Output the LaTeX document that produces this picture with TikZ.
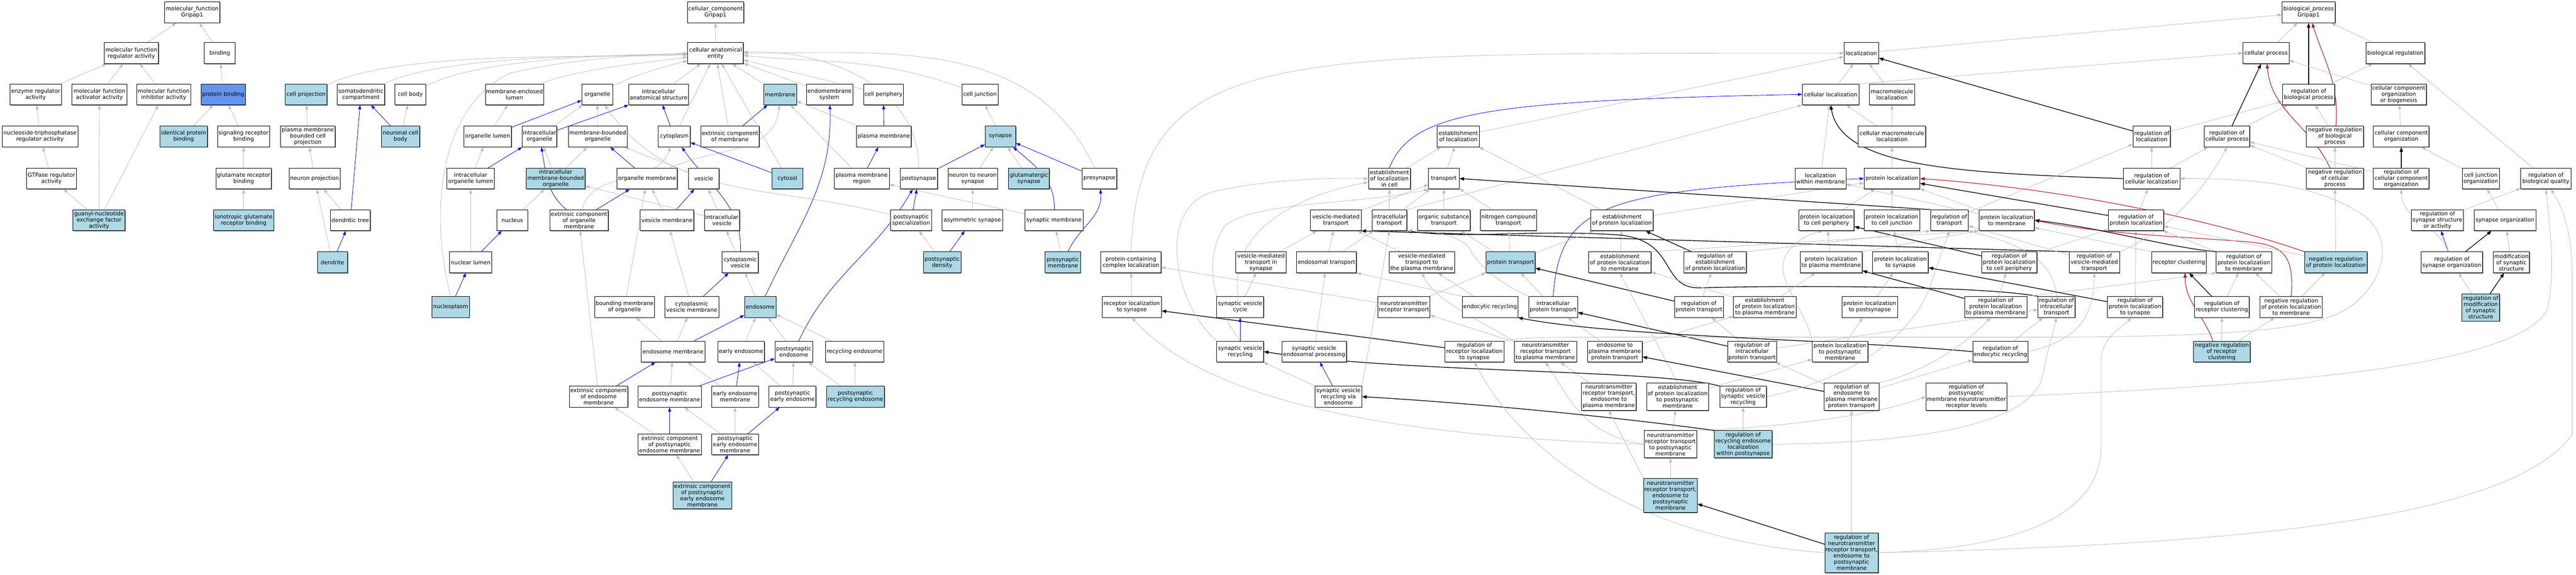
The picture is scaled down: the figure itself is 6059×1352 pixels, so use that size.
\documentclass[tikz,border=0pt]{standalone}
\usepackage{fontspec}
\setmainfont{DejaVu Sans}
\usetikzlibrary{arrows.meta,shadows}
\newcommand{\gofont}{\fontsize{13}{14.5}\selectfont}
\definecolor{lbl}{HTML}{ADD8E6}
\definecolor{cfb}{HTML}{6495ED}
\definecolor{eg}{HTML}{BEBEBE}
\definecolor{fbr}{HTML}{B22222}
\pgfdeclarelayer{edgelayer}
\pgfsetlayers{edgelayer,main}
\tikzset{
  box/.style={draw=black, line width=1.1pt, fill=white, inner sep=1pt, align=center, font=\gofont, minimum height=49pt,
    drop shadow={shadow xshift=1.3pt, shadow yshift=-1.6pt, fill=black!55, opacity=1}},
  lbx/.style={box, fill=lbl},
  W/.style={minimum width=#1pt},
  H/.style={minimum height=#1pt},
  isa/.style={draw=eg, line width=1pt, -{Triangle[length=10pt,width=7pt]}},
  po/.style={draw=blue, line width=1pt, -{Triangle[length=10pt,width=7pt]}},
  rg/.style={draw=black, line width=1.6pt, -{Triangle[length=11pt,width=8pt]}},
  nr/.style={draw=fbr, line width=1.4pt, -{Triangle[length=11pt,width=8pt]}}
}
\begin{document}
\begin{tikzpicture}[x=1pt,y=1pt]
\useasboundingbox (0,0) rectangle (6059,1352);
% ---------------- molecular function
\node[box,W=130] (mf) at (452,1323) {molecular\_function\\Gripap1};
\node[box,W=128] (mfreg) at (309,1227) {molecular function\\regulator activity};
\node[box,W=72] (binding) at (517,1227) {binding};
\node[box,W=121] (enzreg) at (84,1130) {enzyme regulator\\activity};
\node[box,W=129] (mfact) at (234,1130) {molecular function\\activator activity};
\node[box,W=127] (mfinh) at (385,1130) {molecular function\\inhibitor activity};
\node[box,W=104,fill=cfb] (protbind) at (525,1130) {protein binding};
\node[box,W=178] (ntpreg) at (94,1031) {nucleoside-triphosphatase\\regulator activity};
\node[lbx,W=112] (idprot) at (432,1031) {identical protein\\binding};
\node[box,W=122] (sigrec) at (573,1031) {signaling receptor\\binding};
\node[box,W=117] (gtpreg) at (121,932) {GTPase regulator\\activity};
\node[box,W=130] (glurec) at (573,932) {glutamate receptor\\binding};
\node[lbx,W=122] (gef) at (233,834) {guanyl-nucleotide\\exchange factor\\activity};
\node[lbx,W=141] (ionglu) at (573,834) {ionotropic glutamate\\receptor binding};
% ---------------- cellular component
\node[box,W=133] (cc) at (1683,1323) {cellular\_component\\Gripap1};
\node[box,W=131] (cae) at (1683,1227) {cellular anatomical\\entity};
\node[lbx,W=98] (cellproj) at (720,1130) {cell projection};
\node[box,W=112] (somato) at (849,1130) {somatodendritic\\compartment};
\node[box,W=72] (cellbody) at (965,1130) {cell body};
\node[box,W=137] (mel) at (1210,1130) {membrane-enclosed\\lumen};
\node[box,W=72] (organelle) at (1405,1130) {organelle};
\node[box,W=140] (ias) at (1549,1130) {intracellular\\anatomical structure};
\node[lbx,W=77] (membrane) at (1835,1130) {membrane};
\node[box,W=109] (endomem) at (1951,1130) {endomembrane\\system};
\node[box,W=93] (cellperiph) at (2078,1130) {cell periphery};
\node[box,W=85] (celljunc) at (2305,1130) {cell junction};
\node[box,W=129] (pmbcp) at (724,1031) {plasma membrane\\bounded cell\\projection};
\node[lbx,W=90] (ncb) at (942,1031) {neuronal cell\\body};
\node[box,W=112] (orglumen) at (1147,1031) {organelle lumen};
\node[box,W=81] (intorg) at (1269,1031) {intracellular\\organelle};
\node[box,W=138] (mbo) at (1406,1031) {membrane-bounded\\organelle};
\node[box,W=75] (cytoplasm) at (1586,1031) {cytoplasm};
\node[box,W=138] (extmem) at (1717,1031) {extrinsic component\\of membrane};
\node[box,W=129] (pm) at (2079,1031) {plasma membrane};
\node[lbx,W=72] (synapse) at (2353,1031) {synapse};
\node[box,W=120] (neurproj) at (740,932) {neuron projection};
\node[box,W=111] (iol) at (1107,932) {intracellular\\organelle lumen};
\node[lbx,W=138] (imbo) at (1307,932) {intracellular\\membrane-bounded\\organelle};
\node[box,W=142] (orgmem) at (1522,932) {organelle membrane};
\node[box,W=72] (vesicle) at (1655,932) {vesicle};
\node[lbx,W=72] (cytosol) at (1852,932) {cytosol};
\node[box,W=129] (pmr) at (2027,932) {plasma membrane\\region};
\node[box,W=88] (postsyn) at (2161,932) {postsynapse};
\node[box,W=116] (n2n) at (2288,932) {neuron to neuron\\synapse};
\node[lbx,W=96] (glutsyn) at (2420,932) {glutamatergic\\synapse};
\node[box,W=82] (presyn) at (2586,932) {presynapse};
\node[box,W=94] (dendtree) at (824,834) {dendritic tree};
\node[box,W=72] (nucleus) at (1205,834) {nucleus};
\node[box,W=138] (ecom) at (1362,834) {extrinsic component\\of organelle\\membrane};
\node[box,W=126] (vesmem) at (1569,834) {vesicle membrane};
\node[box,W=83] (intves) at (1698,834) {intracellular\\vesicle};
\node[box,W=96] (pss) at (2143,834) {postsynaptic\\specialization};
\node[box,W=143] (asym) at (2287,834) {asymmetric synapse};
\node[box,W=137] (synmem) at (2479,834) {synaptic membrane};
\node[lbx,W=71] (dendrite) at (782,735) {dendrite};
\node[box,W=99] (nuclumen) at (1107,735) {nuclear lumen};
\node[box,W=85] (cytves) at (1741,735) {cytoplasmic\\vesicle};
\node[lbx,W=88] (psd) at (2216,735) {postsynaptic\\density};
\node[lbx,W=83] (presynmem) at (2500,735) {presynaptic\\membrane};
\node[lbx,W=88] (nucleoplasm) at (1060,630) {nucleoplasm};
\node[box,W=140] (bmo) at (1469,630) {bounding membrane\\of organelle};
\node[box,W=127] (cvm) at (1627,630) {cytoplasmic\\vesicle membrane};
\node[lbx,W=74] (endosome) at (1788,630) {endosome};
\node[box,W=150] (endmem) at (1583,525) {endosome membrane};
\node[box,W=110] (earlyend) at (1743,525) {early endosome};
\node[box,W=88] (psend) at (1867,525) {postsynaptic\\endosome};
\node[box,W=137] (recend) at (2010,525) {recycling endosome};
\node[box,W=138] (ecem) at (1408,419) {extrinsic component\\of endosome\\membrane};
\node[box,W=149] (psendmem) at (1575,419) {postsynaptic\\endosome membrane};
\node[box,W=110] (eem) at (1729,419) {early endosome\\membrane};
\node[box,W=110] (pse) at (1864,419) {postsynaptic\\early endosome};
\node[lbx,W=136] (psre) at (2012,419) {postsynaptic\\recycling endosome};
\node[box,W=149] (ecpem) at (1575,307) {extrinsic component\\of postsynaptic\\endosome membrane};
\node[box,W=110] (psem) at (1729,307) {postsynaptic\\early endosome\\membrane};
\node[lbx,W=138,H=64] (ecpeem) at (1652,187) {extrinsic component\\of postsynaptic\\early endosome\\membrane};
% ---------------- biological process
\node[box,W=125] (bp) at (5430,1323) {biological\_process\\Gripap1};
\node[box,W=81] (loc) at (4378,1227) {localization};
\node[box,W=108] (cellproc) at (5330,1227) {cellular process};
\node[box,W=139] (bioreg) at (5634,1227) {biological regulation};
\node[box,W=133] (cellloc) at (4306,1130) {cellular localization};
\node[box,W=107] (macroloc) at (4450,1130) {macromolecule\\localization};
\node[box,W=123] (rbp) at (5430,1130) {regulation of\\biological process};
\node[box,W=130] (ccob) at (5642,1130) {cellular component\\organization\\or biogenesis};
\node[box,W=99] (estloc) at (3430,1031) {establishment\\of localization};
\node[box,W=159] (cmacroloc) at (4450,1031) {cellular macromolecule\\localization};
\node[box,W=88] (rloc) at (5061,1031) {regulation of\\localization};
\node[box,W=107] (rcp) at (5238,1031) {regulation of\\cellular process};
\node[box,W=134] (nrbp) at (5492,1031) {negative regulation\\of biological\\process};
\node[box,W=131] (cco) at (5648,1031) {cellular component\\organization};
\node[box,W=99] (estloccell) at (3268,932) {establishment\\of localization\\in cell};
\node[box,W=72] (transport) at (3396,932) {transport};
\node[box,W=120] (locmem) at (4282,932) {localization\\within membrane};
\node[box,W=131] (protloc) at (4450,932) {protein localization};
\node[box,W=133] (rcellloc) at (5061,932) {regulation of\\cellular localization};
\node[box,W=134] (nrcp) at (5492,932) {negative regulation\\of cellular\\process};
\node[box,W=131] (rcco) at (5648,932) {regulation of\\cellular component\\organization};
\node[box,W=87] (cjo) at (5835,932) {cell junction\\organization};
\node[box,W=118] (rbq) at (5988,932) {regulation of\\biological quality};
\node[box,W=119] (vmt) at (3142,834) {vesicle-mediated\\transport};
\node[box,W=82] (ict) at (3268,834) {intracellular\\transport};
\node[box,W=124] (ost) at (3396,834) {organic substance\\transport};
\node[box,W=132] (nct) at (3548,834) {nitrogen compound\\transport};
\node[box,W=147] (estprotloc) at (3815,834) {establishment\\of protein localization};
\node[box,W=130] (plcp) at (4296,834) {protein localization\\to cell periphery};
\node[box,W=131] (plcj) at (4450,834) {protein localization\\to cell junction};
\node[box,W=89] (rtrans) at (4585,834) {regulation of\\transport};
\node[box,W=130] (plmem) at (4720,834) {protein localization\\to membrane};
\node[box,W=130] (rprotloc) at (5024,834) {regulation of\\protein localization};
\node[box,W=122] (rssa) at (5733,834) {regulation of\\synapse structure\\or activity};
\node[box,W=145] (synorg) at (5892,834) {synapse organization};
\node[box,W=142] (pcl) at (2660,735) {protein-containing\\complex localization};
\node[box,W=118] (vmts) at (2966,735) {vesicle-mediated\\transport in\\synapse};
\node[box,W=141] (endotrans) at (3120,735) {endosomal transport};
\node[box,W=154] (vmtpm) at (3344,735) {vesicle-mediated\\transport to\\the plasma membrane};
\node[lbx,W=115] (prottrans) at (3553,735) {protein transport};
\node[box,W=147] (estplmem) at (3810,735) {establishment\\of protein localization\\to membrane};
\node[box,W=147] (restprotloc) at (4034,735) {regulation of\\establishment\\of protein localization};
\node[box,W=146] (plpm) at (4307,735) {protein localization\\to plasma membrane};
\node[box,W=131] (plsyn) at (4470,735) {protein localization\\to synapse};
\node[box,W=130] (rplcp) at (4726,735) {regulation of\\protein localization\\to cell periphery};
\node[box,W=119] (rvmt) at (4926,735) {regulation of\\vesicle-mediated\\transport};
\node[box,W=128] (recclust) at (5125,735) {receptor clustering};
\node[box,W=130] (rplmem) at (5278,735) {regulation of\\protein localization\\to membrane};
\node[lbx,W=147] (nrprotloc) at (5494,735) {negative regulation\\of protein localization};
\node[box,W=145] (rso) at (5767,735) {regulation of\\synapse organization};
\node[box,W=85] (mss) at (5907,735) {modification\\of synaptic\\structure};
\node[box,W=139] (rls) at (2662,630) {receptor localization\\to synapse};
\node[box,W=110] (svc) at (2917,630) {synaptic vesicle\\cycle};
\node[box,W=122] (ntrt) at (3302,630) {neurotransmitter\\receptor transport};
\node[box,W=130] (endorec) at (3505,630) {endocytic recycling};
\node[box,W=115] (ipt) at (3653,630) {intracellular\\protein transport};
\node[box,W=115] (rpt) at (3996,630) {regulation of\\protein transport};
\node[box,W=147] (estplpm) at (4151,630) {establishment\\of protein localization\\to plasma membrane};
\node[box,W=131] (plps) at (4398,630) {protein localization\\to postsynapse};
\node[box,W=147] (rplpm) at (4694,630) {regulation of\\protein localization\\to plasma membrane};
\node[box,W=87] (rit) at (4837,630) {regulation of\\intracellular\\transport};
\node[box,W=130] (rplsyn) at (5022,630) {regulation of\\protein localization\\to synapse};
\node[box,W=128] (rrc) at (5226,630) {regulation of\\receptor clustering};
\node[box,W=146] (nrplmem) at (5389,630) {negative regulation\\of protein localization\\to membrane};
\node[lbx,W=89,H=64] (rmss) at (5835,629) {regulation of\\modification\\of synaptic\\structure};
\node[box,W=110] (svr) at (2917,525) {synaptic vesicle\\recycling};
\node[box,W=152] (svep) at (3091,525) {synaptic vesicle\\endosomal processing};
\node[box,W=139] (rrls) at (3468,525) {regulation of\\receptor localization\\to synapse};
\node[box,W=147] (ntrtpm) at (3635,525) {neurotransmitter\\receptor transport\\to plasma membrane};
\node[box,W=129] (e2pm) at (3798,525) {endosome to\\plasma membrane\\protein transport};
\node[box,W=115] (ript) at (4121,525) {regulation of\\intracellular\\protein transport};
\node[box,W=131] (plpsm) at (4328,525) {protein localization\\to postsynaptic\\membrane};
\node[box,W=130] (rer) at (4705,525) {regulation of\\endocytic recycling};
\node[lbx,W=133] (nrrc) at (5226,525) {negative regulation\\of receptor\\clustering};
\node[box,W=110] (svre) at (3148,419) {synaptic vesicle\\recycling via\\endosome};
\node[box,W=128,H=64] (ntrte2pm) at (3784,419) {neurotransmitter\\receptor transport,\\endosome to\\plasma membrane};
\node[box,W=145,H=64] (estplpsm) at (3946,419) {establishment\\of protein localization\\to postsynaptic\\membrane};
\node[box,W=110] (rsvr) at (4100,419) {regulation of\\synaptic vesicle\\recycling};
\node[box,W=129,H=64] (re2pm) at (4355,419) {regulation of\\endosome to\\plasma membrane\\protein transport};
\node[box,W=190,H=64] (rpmntrl) at (4625,419) {regulation of\\postsynaptic\\membrane neurotransmitter\\receptor levels};
\node[box,W=123,H=64] (ntrtpsm) at (3929,307) {neurotransmitter\\receptor transport\\to postsynaptic\\membrane};
\node[lbx,W=136,H=64] (rrelp) at (4100,307) {regulation of\\recycling endosome\\localization\\within postsynapse};
\node[lbx,W=126,H=80] (ntrte2psm) at (3929,187) {neurotransmitter\\receptor transport,\\endosome to\\postsynaptic\\membrane};
\node[lbx,W=125,H=94] (rntrte2psm) at (4355,52) {regulation of\\neurotransmitter\\receptor transport,\\endosome to\\postsynaptic\\membrane};

\begin{pgfonlayer}{edgelayer}
\fill[white] (0,0) rectangle (6059,1352);
% ---- MF edges
\draw[isa] (mfreg) -- (mf);
\draw[isa] (binding) -- (mf);
\draw[isa] (enzreg) -- (mfreg);
\draw[isa] (mfact) -- (mfreg);
\draw[isa] (mfinh) -- (mfreg);
\draw[isa] (protbind) -- (binding);
\draw[isa] (ntpreg) -- (enzreg);
\draw[isa] (idprot) -- (protbind);
\draw[isa] (sigrec) -- (protbind);
\draw[isa] (gtpreg) -- (ntpreg);
\draw[isa] (glurec) -- (sigrec);
\draw[isa] (gef) -- (gtpreg);
\draw[isa] (gef) -- (mfact);
\draw[isa] (gef) -- (mfinh);
\draw[isa] (ionglu) -- (glurec);
% ---- CC edges
\draw[isa] (cae) -- (cc);
\draw[isa] (cellproj) to[out=25,in=183,looseness=0.6] (cae);
\draw[isa] (somato) to[out=25,in=182,looseness=0.6] (cae);
\draw[isa] (cellbody) to[out=28,in=181,looseness=0.6] (cae);
\draw[isa] (mel) to[out=22,in=188,looseness=0.7] (cae);
\draw[isa] (organelle) to[out=28,in=195,looseness=0.8] (cae);
\draw[isa] (nucleoplasm.north) .. controls (1010,850) and (1030,1100) .. (1200,1180) .. controls (1350,1215) and (1500,1222) .. (cae.west);
\draw[isa] (ias) -- (cae);
\draw[isa] (cytoplasm) -- (cae);
\draw[isa] (extmem) -- (cae);
\draw[isa] (cytosol) -- (cae);
\draw[isa] (membrane) -- (cae);
\draw[isa] (endomem) -- (cae);
\draw[isa] (cellperiph) -- (cae);
\draw[isa] (celljunc) to[out=160,in=-5] (cae);
\draw[isa] (postsyn) to[out=90,in=2] (cae);
\draw[isa] (presyn) to[out=115,in=0] (cae);
\draw[isa] (pmbcp) -- (cellproj);
\draw[isa] (neurproj) -- (pmbcp);
\draw[isa] (dendtree) -- (neurproj);
\draw[po] (dendtree) -- (somato);
\draw[po] (dendrite) -- (dendtree);
\draw[isa] (dendrite) -- (neurproj);
\draw[po] (ncb) -- (somato);
\draw[isa] (ncb) -- (cellbody);
\draw[isa] (orglumen) -- (mel);
\draw[po] (orglumen) -- (organelle);
\draw[isa] (intorg) -- (organelle);
\draw[po] (intorg) -- (ias);
\draw[isa] (mbo) -- (organelle);
\draw[isa] (iol) -- (orglumen);
\draw[po] (iol) -- (intorg);
\draw[isa] (imbo) -- (intorg);
\draw[isa] (imbo) -- (mbo);
\draw[isa] (nucleus) -- (imbo);
\draw[po] (nuclumen) -- (nucleus);
\draw[isa] (nuclumen) -- (iol);
\draw[po] (nucleoplasm) -- (nuclumen);
\draw[po] (ecom) to[out=140,in=-80] (intorg);
\draw[po] (ecom) -- (orgmem);
\draw[isa] (ecom) to[out=75,in=-110] (cytoplasm);
\draw[po] (orgmem) -- (mbo);
\draw[isa] (orgmem) to[out=25,in=-95] (membrane);
\draw[isa] (vesicle) -- (mbo);
\draw[po] (cytoplasm) -- (ias);
\draw[po] (extmem) -- (membrane);
\draw[po] (cytosol) -- (cytoplasm);
\draw[po] (pm) -- (cellperiph);
\draw[isa] (pm) -- (membrane);
\draw[isa] (pmr) -- (membrane);
\draw[po] (pmr) -- (pm);
\draw[isa] (synapse) -- (celljunc);
\draw[po] (postsyn) -- (synapse);
\draw[isa] (n2n) -- (synapse);
\draw[isa] (glutsyn) -- (synapse);
\draw[po] (presyn) -- (synapse);
\draw[po] (synmem) to[out=88,in=-40] (synapse);
\draw[isa] (synmem) -- (pmr);
\draw[po] (pss) -- (postsyn);
\draw[isa] (pss) to[out=165,in=-55] (organelle);
\draw[isa] (asym) -- (n2n);
\draw[isa] (psd) -- (pss);
\draw[po] (psd) -- (asym);
\draw[isa] (presynmem) -- (synmem);
\draw[po] (presynmem) to[out=65,in=-85] (presyn);
\draw[isa] (vesmem) -- (orgmem);
\draw[po] (vesmem) -- (vesicle);
\draw[isa] (intves) -- (vesicle);
\draw[isa] (intves) -- (imbo);
\draw[isa] (cytves) -- (intves);
\draw[po] (cytves) to[out=88,in=-55] (cytoplasm);
\draw[isa] (bmo) -- (orgmem);
\draw[isa] (cvm) -- (vesmem);
\draw[po] (cvm) -- (cytves);
\draw[isa] (endosome) -- (cytves);
\draw[po] (endosome) to[out=65,in=-88] (endomem);
\draw[isa] (endmem) -- (bmo);
\draw[isa] (endmem) -- (cvm);
\draw[po] (endmem) -- (endosome);
\draw[isa] (earlyend) -- (endosome);
\draw[isa] (psend) -- (endosome);
\draw[po] (psend) to[out=65,in=-120] (postsyn);
\draw[isa] (recend) -- (endosome);
\draw[isa] (ecem) -- (ecom);
\draw[po] (ecem) -- (endmem);
\draw[isa] (psendmem) -- (endmem);
\draw[po] (psendmem) -- (psend);
\draw[isa] (eem) -- (endmem);
\draw[po] (eem) -- (earlyend);
\draw[isa] (pse) -- (earlyend);
\draw[isa] (pse) -- (psend);
\draw[isa] (psre) -- (psend);
\draw[isa] (psre) -- (recend);
\draw[isa] (ecpem) -- (ecem);
\draw[po] (ecpem) -- (psendmem);
\draw[isa] (psem) -- (psendmem);
\draw[isa] (psem) -- (eem);
\draw[po] (psem) -- (pse);
\draw[isa] (ecpeem) -- (ecpem);
\draw[po] (ecpeem) -- (psem);
% ---- BP edges
\draw[isa] (cellproc) -- (bp);
\draw[rg] (rbp) -- (bp);
\draw[isa] (bioreg) -- (bp);
\draw[nr] (nrbp) to[out=85,in=-72] (bp);
\draw[isa] (loc) -- (bp);
\draw[isa] (rbp) -- (bioreg);
\draw[isa] (ccob) -- (cellproc);
\draw[isa] (rloc) -- (rbp);
\draw[isa] (rcp) -- (rbp);
\draw[rg] (rcp) -- (cellproc);
\draw[isa] (nrbp) -- (rbp);
\draw[isa] (cco) -- (ccob);
\draw[isa] (rcellloc) -- (rloc);
\draw[isa] (rcellloc) -- (rcp);
\draw[isa] (nrcp) -- (nrbp);
\draw[nr] (nrcp) to[out=115,in=-85] (cellproc);
\draw[isa] (nrcp) -- (rcp);
\draw[rg] (rcco) -- (cco);
\draw[isa] (rcco) -- (rcp);
\draw[isa] (cjo) -- (cco);
\draw[isa] (rbq) -- (bioreg);
\draw[isa] (rprotloc) -- (rcellloc);
\draw[isa] (rssa) -- (rbq);
\draw[isa] (synorg) -- (cjo);
\draw[po] (rso) -- (rssa);
\draw[rg] (rso) -- (synorg);
\draw[isa] (rso) to[out=110,in=-90] (rcco);
\draw[isa] (mss) -- (synorg);
\draw[isa] (rmss) -- (rso);
\draw[rg] (rmss) -- (mss);
\draw[isa] (cellloc) -- (loc);
\draw[isa] (macroloc) -- (loc);
\draw[isa] (estloc) -- (loc);
\draw[isa] (pcl.north) .. controls (2680,1250) and (3000,1225) .. (loc.west);
\draw[isa] (cellloc.north east) -- (cellproc.west);
\draw[po] (estloccell.north) .. controls (3320,1090) and (3500,1115) .. (cellloc.west);
\draw[isa] (estloccell) -- (estloc);
\draw[isa] (ict.north east) -- (cellloc.south west);
\draw[isa] (transport) -- (estloc);
\draw[isa] (locmem) -- (cellloc);
\draw[isa] (cmacroloc) -- (cellloc);
\draw[isa] (cmacroloc) -- (macroloc);
\draw[rg] (rcellloc.west) .. controls (4600,945) and (4330,960) .. (cellloc.south);
\draw[rg] (rloc) -- (loc);
\draw[isa] (protloc) -- (cmacroloc);
\draw[po] (ipt.north) .. controls (3670,870) and (3760,905) .. (protloc.west);
\draw[isa] (estprotloc) -- (protloc);
\draw[isa] (estprotloc) -- (estloc);
\draw[isa] (plcp) -- (protloc);
\draw[isa] (plcj) -- (protloc);
\draw[isa] (plmem) -- (protloc);
\draw[isa] (plmem) -- (locmem);
\draw[isa] (rtrans) -- (rloc);
\draw[rg] (rtrans.north west) -- (transport.east);
\draw[rg] (rprotloc) -- (protloc);
\draw[nr] (nrprotloc.north west) .. controls (5250,820) and (4900,905) .. (protloc.east);
\draw[isa] (estplmem) -- (estprotloc);
\draw[rg] (restprotloc) -- (estprotloc);
\draw[isa] (estplmem.north east) -- (plmem.south west);
\draw[isa] (plpm) -- (plcp);
\draw[isa] (plpm.north east) -- (plmem.south west);
\draw[isa] (plsyn) -- (plcj);
\draw[rg] (rplcp) -- (plcp);
\draw[isa] (rplcp) -- (rprotloc);
\draw[rg] (rvmt.north west) -- (vmt.south east);
\draw[rg] (rit.north west) .. controls (4650,682) and (4150,680) .. (4000,675) .. controls (3900,672) and (3950,790) .. (3800,800) .. controls (3600,812) and (3450,790) .. (ict.south east);
\draw[rg] (ript) -- (ipt);
\draw[rg] (rrls) -- (rls);
\draw[isa] (rrls.north east) .. controls (3600,559) .. (3900,559) -- (4850,559) .. controls (5300,562) and (5470,580) .. (5540,640) .. controls (5610,700) and (5630,790) .. (5560,845) .. controls (5450,920) and (5300,932) .. (rcellloc.east);
\draw[isa] (prottrans) -- (ost);
\draw[isa] (prottrans) -- (nct);
\draw[isa] (prottrans) -- (estprotloc);
\draw[rg] (rpt) -- (prottrans);
\draw[isa] (vmt) -- (transport);
\draw[isa] (ict) -- (estloccell);
\draw[isa] (ict) -- (transport);
\draw[isa] (ost) -- (transport);
\draw[isa] (nct) -- (transport);
\draw[isa] (vmts) -- (vmt);
\draw[isa] (endotrans) -- (vmt);
\draw[isa] (endotrans) -- (ict);
\draw[isa] (vmtpm) -- (vmt);
\draw[isa] (rls) -- (pcl);
\draw[isa] (ntrt) -- (pcl);
\draw[isa] (svc) -- (vmts);
\draw[isa] (svc) to[out=100,in=190] (estloccell);
\draw[po] (svr) -- (svc);
\draw[isa] (svr.north west) .. controls (2760,640) and (2720,860) .. (2850,900) .. controls (2950,925) and (3100,935) .. (estloccell.west);
\draw[isa] (svr.north) .. controls (2850,640) and (2830,740) .. (2880,820) .. controls (2950,880) and (3200,870) .. (transport.south west);
\draw[isa] (svep) -- (endotrans);
\draw[isa] (svre) -- (svr);
\draw[po] (svre) -- (svep);
\draw[isa] (svre.north east) -- (ict.south);
\draw[isa] (endorec) -- (vmtpm);
\draw[isa] (endorec.north west) -- (endotrans.south east);
\draw[isa] (ntrt) -- (prottrans);
\draw[isa] (ipt) -- (prottrans);
\draw[isa] (ipt.north west) .. controls (3520,690) and (3475,730) .. (3455,770) .. controls (3430,800) and (3360,810) .. (ict.south east);
\draw[isa] (ntrtpm) -- (ntrt);
\draw[isa] (ntrtpm.north west) .. controls (3480,600) and (3380,640) .. (vmtpm.south);
\draw[isa] (ntrte2pm) -- (ntrtpm);
\draw[isa] (ntrtpsm.west) .. controls (3720,330) and (3690,420) .. (ntrtpm.south);
\draw[isa] (ntrtpsm.west) .. controls (3300,325) and (2850,400) .. (rls.south);
\draw[isa] (ntrtpsm) -- (estplpsm);
\draw[isa] (ntrtpsm.north east) .. controls (4150,345) and (4400,370) .. (rpmntrl.west);
\draw[isa] (estplpsm.north) -- (estplmem.south);
\draw[isa] (estplpsm) -- (plpsm);
\draw[isa] (e2pm) -- (estplpm);
\draw[isa] (e2pm) -- (ipt);
\draw[isa] (estplpm) -- (estplmem);
\draw[isa] (estplpm) -- (plpm);
\draw[isa] (plps) -- (plsyn);
\draw[isa] (plpsm) -- (plps);
\draw[isa] (plpsm.north west) .. controls (4250,620) and (4170,700) .. (4200,750) .. controls (4220,785) and (4250,800) .. (plcp.250);
\draw[rg] (rplpm) -- (plpm);
\draw[isa] (rplpm) -- (rplcp);
\draw[isa] (rplpm.north east) -- (rplmem.south west);
\draw[isa] (rit.north) .. controls (4832,760) and (4700,790) .. (rtrans.south east);
\draw[isa] (ript) -- (rpt);
\draw[isa] (ript) -- (rit);
\draw[rg] (rer.west) .. controls (4300,555) and (3800,560) .. (endorec.south east);
\draw[isa] (rer) -- (rit);
\draw[isa] (rer.east) .. controls (4880,550) and (4925,600) .. (rvmt.south);
\draw[isa] (re2pm) -- (ript);
\draw[rg] (re2pm) -- (e2pm);
\draw[isa] (re2pm) -- (rer);
\draw[isa] (re2pm.north east) .. controls (4500,470) and (4600,520) .. (rplpm.-115);
\draw[rg] (rsvr.north west) .. controls (3900,484) and (3300,474) .. (svr.east);
\draw[isa] (rsvr.east) .. controls (4350,460) and (4500,560) .. (4540,680) .. controls (4560,740) and (4575,780) .. (rtrans.south);
\draw[isa] (rrelp) -- (rsvr);
\draw[rg] (rrelp.north west) .. controls (3850,365) and (3500,402) .. (svre.east);
\draw[isa] (rrelp.east) .. controls (4500,310) and (4780,350) .. (4805,470) .. controls (4815,530) and (4830,570) .. (rit.south);
\draw[isa] (rpmntrl.east) .. controls (5300,445) and (5900,480) .. (5990,620) .. controls (6010,700) and (6000,800) .. (rbq.south);
\draw[isa] (rntrte2psm.east) .. controls (5200,70) and (5900,120) .. (6050,330) -- (6050,700) .. controls (6050,800) and (6030,860) .. (rbq.-65);
\draw[isa] (rntrte2psm.east) .. controls (4700,60) and (4940,120) .. (4942,300) -- (4942,500) .. controls (4942,560) and (4990,580) .. (rplsyn.-110);
\draw[isa] (rntrte2psm.west) .. controls (3900,80) and (3600,250) .. (rrls.south);
\draw[rg] (rntrte2psm) -- (ntrte2psm);
\draw[isa] (rntrte2psm) -- (re2pm);
\draw[isa] (ntrte2psm) -- (ntrtpsm);
\draw[isa] (ntrte2psm.north west) -- (ntrte2pm.south);
\draw[rg] (rplsyn) -- (plsyn);
\draw[isa] (rplsyn) -- (rprotloc);
\draw[rg] (rrc) -- (recclust);
\draw[isa] (rrc) -- (rplmem);
\draw[isa] (nrplmem) -- (rplmem);
\draw[isa] (nrplmem) -- (nrprotloc);
\draw[nr] (nrplmem.north) .. controls (5395,740) and (5380,772) .. (5300,782) .. controls (5150,795) and (4950,800) .. (plmem.east);
\draw[rg] (rplmem.north west) .. controls (5100,770) and (4950,815) .. (plmem.east);
\draw[isa] (rplmem) -- (rprotloc);
\draw[nr] (nrrc.130) to[out=110,in=-90] (recclust.-60);
\draw[isa] (nrrc) -- (rrc);
\draw[isa] (nrrc) -- (nrplmem);
\draw[isa] (recclust.north west) -- (plmem.-15);
\draw[isa] (nrprotloc) -- (rprotloc);
\draw[isa] (nrprotloc) -- (nrcp);
\draw[isa] (restprotloc.north east) -- (rtrans.south west);
\draw[isa] (rpt) -- (restprotloc);
\draw[isa] (rvmt) -- (rtrans);
\draw[isa] (rvmt.north east) .. controls (5080,800) and (5170,880) .. (rcp.south);
\end{pgfonlayer}
\end{tikzpicture}
\end{document}
